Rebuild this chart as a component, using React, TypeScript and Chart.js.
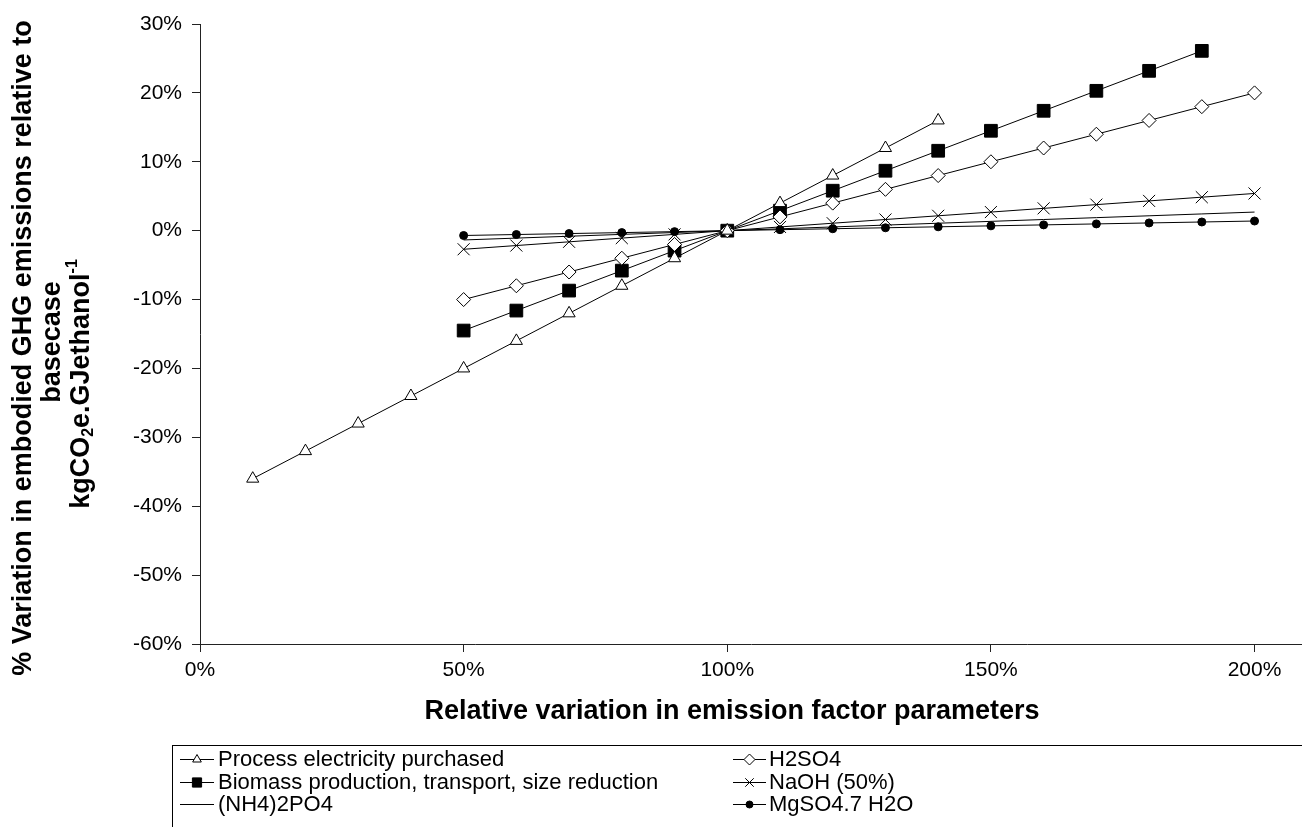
import React, { useEffect, useRef } from 'react';
import { Chart, registerables } from 'chart.js';
import { drawPoint } from 'chart.js/helpers';

Chart.register(...registerables);

const FONT = "'Liberation Sans', Arial, Helvetica, sans-serif";

// x values (relative variation in emission factor, %)
const xElectricity = [10, 20, 30, 40, 50, 60, 70, 80, 90, 100, 110, 120, 130, 140];
const xBiomass = [50, 60, 70, 80, 90, 100, 110, 120, 130, 140, 150, 160, 170, 180, 190];
const xFull = [50, 60, 70, 80, 90, 100, 110, 120, 130, 140, 150, 160, 170, 180, 190, 200];

// series values (% variation in embodied GHG emissions)
const electricity = [-36, -32, -28, -24, -20, -16, -12, -8, -4, 0, 4, 8, 12, 16];
const h2so4 = [-10, -8, -6, -4, -2, 0, 2, 4, 6, 8, 10, 12, 14, 16, 18, 20];
const biomass = [-14.5, -11.6, -8.7, -5.8, -2.9, 0, 2.9, 5.8, 8.7, 11.6, 14.5, 17.4, 20.3, 23.2, 26.1];
const naoh = [-2.7, -2.16, -1.62, -1.08, -0.54, 0, 0.54, 1.08, 1.62, 2.16, 2.7, 3.24, 3.78, 4.32, 4.86, 5.4];
const nh4po4 = [-1.35, -1.08, -0.81, -0.54, -0.27, 0, 0.27, 0.54, 0.81, 1.08, 1.35, 1.62, 1.89, 2.16, 2.43, 2.7];
const mgso4 = [-0.7, -0.56, -0.42, -0.28, -0.14, 0, 0.14, 0.28, 0.42, 0.56, 0.7, 0.84, 0.98, 1.12, 1.26, 1.4];

const seriesNames = [
  'Process electricity purchased',
  'H2SO4',
  'Biomass production, transport, size reduction',
  'NaOH (50%)',
  '(NH4)2PO4',
  'MgSO4.7 H2O',
];

const xTicks = [0, 50, 100, 150, 200];
const xTitle = 'Relative variation in emission factor parameters';
const yTitle1 = '% Variation in embodied GHG emissions relative to';
const yTitle2 = 'basecase';

export default function App() {
  const ref = useRef<HTMLCanvasElement | null>(null);

  useEffect(() => {
    const canvas = ref.current;
    if (!canvas) return;
    const pts = (xs: number[], ys: number[]) => xs.map((x, i) => ({ x, y: ys[i] }));

    const base = {
      borderColor: '#000',
      borderWidth: 1,
      pointBorderColor: '#000',
      pointBorderWidth: 1,
      tension: 0,
      fill: false,
    };

    const datasets: any[] = [
      { ...base, label: seriesNames[0], data: pts(xElectricity, electricity), pointStyle: 'triangle', pointRadius: 7, pointBackgroundColor: '#fff' },
      { ...base, label: seriesNames[1], data: pts(xFull, h2so4), pointStyle: 'rectRot', pointRadius: 7, pointBackgroundColor: '#fff' },
      { ...base, label: seriesNames[2], data: pts(xBiomass, biomass), pointStyle: 'rect', pointRadius: 9, pointBackgroundColor: '#000' },
      { ...base, label: seriesNames[3], data: pts(xFull, naoh), pointStyle: 'crossRot', pointRadius: 8.5, pointBackgroundColor: '#000' },
      { ...base, label: seriesNames[4], data: pts(xFull, nh4po4), pointRadius: 0, pointHoverRadius: 0 },
      { ...base, label: seriesNames[5], data: pts(xFull, mgso4), pointStyle: 'circle', pointRadius: 4, pointBackgroundColor: '#000' },
    ];

    const legendMarkers = [
      { style: 'triangle', r: 5, fill: '#fff' },
      { style: 'rectRot', r: 5.5, fill: '#fff' },
      { style: 'rect', r: 6.5, fill: '#000' },
      { style: 'crossRot', r: 6, fill: '#000' },
      { style: false, r: 0, fill: '#000' },
      { style: 'circle', r: 3.5, fill: '#000' },
    ];

    const overlay = {
      id: 'overlay',
      afterDraw(chart: any) {
        const ctx = chart.ctx as CanvasRenderingContext2D;
        ctx.save();
        ctx.fillStyle = '#000';

        // x axis title
        ctx.font = `bold 27px ${FONT}`;
        ctx.textAlign = 'center';
        ctx.textBaseline = 'middle';
        ctx.fillText(xTitle, 732, 712);

        // y axis title (three rotated lines)
        const drawRot = (cx: number, cy: number, fn: () => void) => {
          ctx.save();
          ctx.translate(cx, cy);
          ctx.rotate(-Math.PI / 2);
          fn();
          ctx.restore();
        };
        drawRot(24, 348, () => {
          ctx.font = `bold 27px ${FONT}`;
          ctx.textAlign = 'center';
          ctx.textBaseline = 'middle';
          ctx.fillText(yTitle1, 0, 0);
        });
        drawRot(53, 342, () => {
          ctx.font = `bold 27px ${FONT}`;
          ctx.textAlign = 'center';
          ctx.textBaseline = 'middle';
          ctx.fillText(yTitle2, 0, 0);
        });
        drawRot(82, 384, () => {
          const big = `bold 27px ${FONT}`;
          const small = `bold 16px ${FONT}`;
          const parts = [
            { t: 'kgCO', f: big, dy: 0 },
            { t: '2', f: small, dy: 7 },
            { t: 'e.GJethanol', f: big, dy: 0 },
            { t: '-1', f: small, dy: -9 },
          ];
          let total = 0;
          parts.forEach((p) => { ctx.font = p.f; total += ctx.measureText(p.t).width; });
          let u = -total / 2;
          ctx.textAlign = 'left';
          ctx.textBaseline = 'middle';
          parts.forEach((p) => {
            ctx.font = p.f;
            ctx.fillText(p.t, u, p.dy);
            u += ctx.measureText(p.t).width;
          });
        });

        // legend box
        ctx.strokeStyle = '#000';
        ctx.lineWidth = 1;
        ctx.strokeRect(172.5, 745.5, 1200, 200);
        const cols = [
          { x0: 180, x1: 214, tx: 218 },
          { x0: 733, x1: 766, tx: 769 },
        ];
        const rows = [759, 782, 804];
        ctx.font = `22px ${FONT}`;
        ctx.textAlign = 'left';
        ctx.textBaseline = 'middle';
        seriesNames.forEach((name, i) => {
          const c = cols[i % 2];
          const y = rows[Math.floor(i / 2)];
          ctx.beginPath();
          ctx.moveTo(c.x0, y + 0.5);
          ctx.lineTo(c.x1, y + 0.5);
          ctx.strokeStyle = '#000';
          ctx.lineWidth = 1;
          ctx.stroke();
          const m = legendMarkers[i];
          if (m.style) {
            ctx.fillStyle = m.fill;
            ctx.strokeStyle = '#000';
            drawPoint(ctx, { pointStyle: m.style as any, radius: m.r, rotation: 0, borderWidth: 1 } as any, (c.x0 + c.x1) / 2, y + 0.5);
          }
          ctx.fillStyle = '#000';
          ctx.fillText(name, c.tx, y + 1);
        });
        ctx.restore();
      },
    };

    const chart = new Chart(canvas, {
      type: 'line',
      data: { datasets },
      options: {
        responsive: false,
        animation: false,
        events: [],
        layout: { autoPadding: false, padding: { top: 24, right: 0, left: 0, bottom: 0 } },
        plugins: {
          legend: { display: false },
          tooltip: { enabled: false },
          title: { display: false },
        },
        scales: {
          x: {
            type: 'linear',
            min: 0,
            max: 209,
            afterBuildTicks: (scale: any) => {
              scale.ticks = xTicks.map((v) => ({ value: v }));
            },
            afterFit: (scale: any) => {
              scale.height = 183;
            },
            grid: { drawOnChartArea: false, drawTicks: true, tickLength: 8, color: '#222' },
            border: { display: true, color: '#222', width: 1 },
            ticks: {
              color: '#000',
              padding: 6,
              font: { family: FONT, size: 21 },
              callback: (v: any) => `${v}%`,
              maxRotation: 0,
            },
          },
          y: {
            type: 'linear',
            min: -60,
            max: 30,
            afterFit: (scale: any) => {
              scale.width = 200;
            },
            grid: { drawOnChartArea: false, drawTicks: true, tickLength: 8, color: '#222' },
            border: { display: true, color: '#222', width: 1 },
            ticks: {
              stepSize: 10,
              color: '#000',
              padding: 10,
              font: { family: FONT, size: 21 },
              callback: (v: any) => `${v}%`,
            },
          },
        },
      },
      plugins: [overlay],
    });

    return () => chart.destroy();
  }, []);

  return (
    <div style={{ position: 'absolute', left: 0, top: 0, width: 1302, height: 827, background: '#fff' }}>
      <canvas ref={ref} width={1302} height={827} style={{ width: 1302, height: 827, display: 'block' }} />
    </div>
  );
}
